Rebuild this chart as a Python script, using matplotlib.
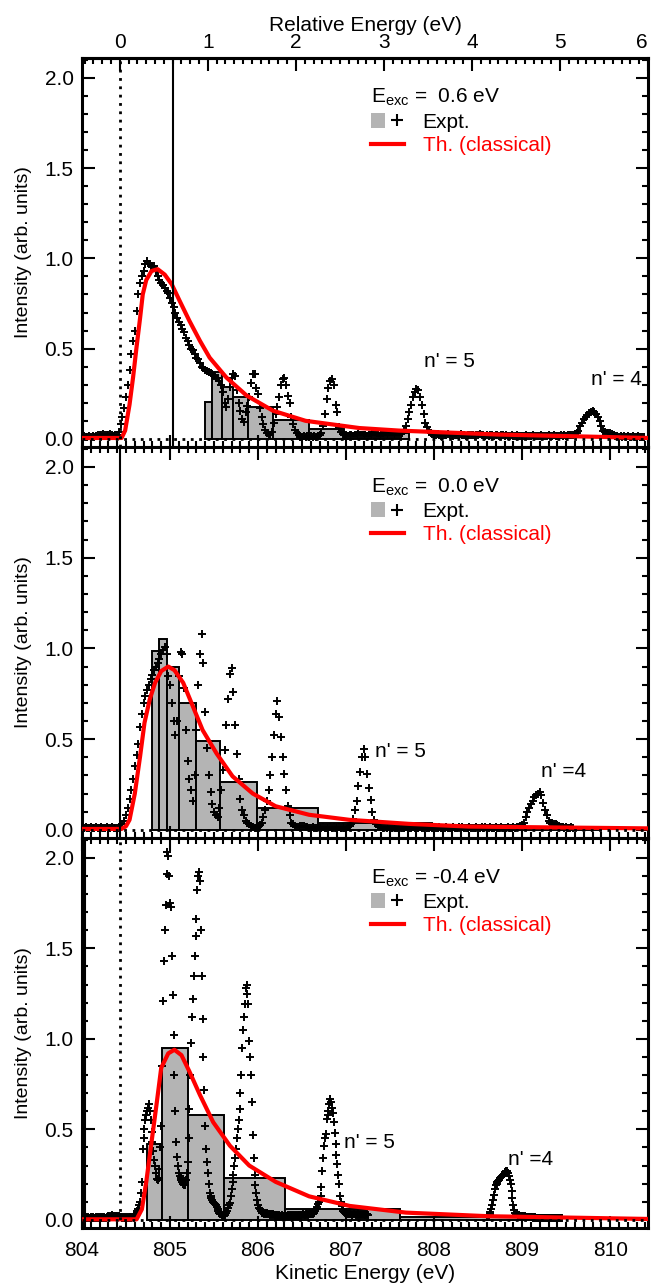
import numpy as np
import matplotlib
matplotlib.use('Agg')
import matplotlib.pyplot as plt
from matplotlib.ticker import MultipleLocator, FormatStrFormatter
from matplotlib.patches import Patch
from matplotlib.lines import Line2D
from matplotlib.legend_handler import HandlerTuple

plt.rcParams['font.family'] = ['Liberation Sans', 'DejaVu Sans']
plt.rcParams['mathtext.fontset'] = 'custom'
plt.rcParams['mathtext.rm'] = 'Liberation Sans'
plt.rcParams['mathtext.it'] = 'Liberation Sans:italic'

# threshold (zero of the relative energy scale), eV
E0 = 804.43
exc = [0.6, 0.0, -0.4]

# ---- experiment, E_exc = 0.6 eV (step 0.02 eV from 804.00)
top_I = [
    0.01, 0.015, 0.01, 0.01, 0.015, 0.01, 0.015, 0.01, 0.015, 0.02,    # 804.0
    0.02, 0.02, 0.025, 0.02, 0.02, 0.02, 0.025, 0.02, 0.015, 0.02,     # 804.2
    0.02, 0.04, 0.08, 0.12, 0.17, 0.23, 0.30, 0.38, 0.47, 0.54,        # 804.4
    0.60, 0.71, 0.80, 0.865, 0.90, 0.93, 0.97, 0.985, 0.97, 0.96,      # 804.6
    0.96, 0.955, 0.93, 0.90, 0.88, 0.865, 0.85, 0.835, 0.82, 0.81,     # 804.8
    0.78, 0.75, 0.73, 0.70, 0.67, 0.65, 0.63, 0.61, 0.59, 0.56,        # 805.0
    0.54, 0.52, 0.50, 0.49, 0.47, 0.45, 0.44, 0.42, 0.40, 0.39,        # 805.2
    0.38, 0.375, 0.37, 0.365, 0.36, 0.35, 0.34, 0.335, 0.32, 0.30,     # 805.4
    0.26, 0.20, 0.175, 0.22, 0.29, 0.34, 0.36, 0.35, 0.27, 0.20,       # 805.6
    0.156, 0.11, 0.092, 0.15, 0.18, 0.23, 0.31, 0.36, 0.36, 0.28,      # 805.8
    0.25, 0.17, 0.12, 0.08, 0.05, 0.03, 0.02, 0.02, 0.04, 0.09,        # 806.0
    0.14, 0.175, 0.23, 0.30, 0.33, 0.34, 0.30, 0.24, 0.20, 0.12,       # 806.2
    0.083, 0.05, 0.03, 0.02, 0.01, 0.01, 0.015, 0.01, 0.015, 0.01,     # 806.4
    0.015, 0.01, 0.015, 0.01, 0.015, 0.02, 0.03, 0.07, 0.14, 0.22,     # 806.6
    0.28, 0.32, 0.33, 0.30, 0.19, 0.15, 0.064, 0.04, 0.025, 0.02,      # 806.8
    0.02, 0.015, 0.02, 0.02, 0.015, 0.02, 0.02, 0.025, 0.02, 0.02,     # 807.0
    0.02, 0.02, 0.015, 0.02, 0.02, 0.025, 0.02, 0.02, 0.02, 0.015,     # 807.2
    0.02, 0.02, 0.025, 0.02, 0.02, 0.02, 0.02, 0.025, 0.02, 0.02,      # 807.4
    0.02, 0.025, 0.03, 0.05, 0.07, 0.11, 0.15, 0.19, 0.23, 0.26,       # 807.6
    0.276, 0.27, 0.23, 0.19, 0.14, 0.09, 0.064, 0.04, 0.03, 0.025,     # 807.8
    0.02, 0.02, 0.025, 0.02, 0.015, 0.02, 0.02, 0.02, 0.025, 0.02,     # 808.0
    0.02, 0.015, 0.02, 0.02, 0.02, 0.025, 0.02, 0.02, 0.015, 0.02,     # 808.2
    0.02, 0.02, 0.02, 0.015, 0.02, 0.02, 0.025, 0.02, 0.02, 0.015,     # 808.4
    0.02, 0.015, 0.02, 0.02, 0.015, 0.02, 0.02, 0.015, 0.02, 0.02,     # 808.6
    0.015, 0.02, 0.015, 0.015, 0.02, 0.015, 0.015, 0.02, 0.015, 0.015, # 808.8
    0.015, 0.015, 0.02, 0.015, 0.015, 0.015, 0.02, 0.015, 0.015, 0.015,  # 809.0
    0.015, 0.02, 0.015, 0.015, 0.015, 0.02, 0.015, 0.015, 0.02, 0.015,   # 809.2
    0.015, 0.015, 0.02, 0.015, 0.02, 0.015, 0.02, 0.02, 0.02, 0.02,      # 809.4
    0.025, 0.035, 0.046, 0.07, 0.09, 0.11, 0.12, 0.13, 0.145, 0.15,      # 809.6
    0.155, 0.15, 0.14, 0.12, 0.10, 0.07, 0.046, 0.04, 0.035, 0.035,      # 809.8
    0.03, 0.025, 0.02, 0.015, 0.015, 0.01, 0.015, 0.01, 0.015, 0.01,     # 810.0
    0.015, 0.01, 0.01, 0.015, 0.01, 0.01, 0.015, 0.01, 0.01, 0.01,       # 810.2
]
top_E = 804.0 + 0.02 * np.arange(len(top_I))

# ---- experiment, E_exc = 0.0 eV (step 0.02 eV from 804.00)
mid_I = [
    0.01, 0.01, 0.015, 0.01, 0.01, 0.015, 0.01, 0.01, 0.015, 0.01,     # 804.0
    0.01, 0.015, 0.01, 0.01, 0.015, 0.01, 0.01, 0.015, 0.01, 0.01,     # 804.2
    0.01, 0.01, 0.015, 0.03, 0.05, 0.08, 0.12, 0.17, 0.22, 0.28,       # 804.4
    0.35, 0.41, 0.475, 0.565, 0.64, 0.70, 0.74, 0.77, 0.80, 0.83,      # 804.6
    0.855, 0.88, 0.90, 0.92, 0.94, 0.97, 0.99, 1.01, 0.97, 0.85,       # 804.8
    0.80, 0.70, 0.60, 0.52, 0.60, 0.85, 0.98, 0.97, 0.78, 0.55,        # 805.0
    0.38, 0.28, 0.22, 0.16, 0.30, 0.55, 0.80, 0.97, 1.08, 0.92,        # 805.2
    0.65, 0.45, 0.30, 0.21, 0.14, 0.10, 0.08, 0.07, 0.12, 0.22,        # 805.4
    0.33, 0.44, 0.58, 0.72, 0.86, 0.89, 0.76, 0.58, 0.42, 0.28,        # 805.6
    0.17, 0.11, 0.08, 0.05, 0.04, 0.03, 0.02, 0.015, 0.01, 0.01,       # 805.8
    0.015, 0.025, 0.04, 0.07, 0.11, 0.16, 0.22, 0.30, 0.40, 0.52,      # 806.0
    0.64, 0.71, 0.62, 0.51, 0.40, 0.31, 0.22, 0.13, 0.08, 0.04,        # 806.2
    0.03, 0.02, 0.015, 0.015, 0.02, 0.02, 0.02, 0.015, 0.015, 0.01,    # 806.4
    0.01, 0.015, 0.01, 0.01, 0.015, 0.01, 0.01, 0.015, 0.01, 0.01,     # 806.6
    0.01, 0.015, 0.01, 0.015, 0.01, 0.01, 0.015, 0.01, 0.015, 0.01,    # 806.8
    0.01, 0.015, 0.02, 0.03, 0.06, 0.11, 0.16, 0.24, 0.32, 0.40,       # 807.0
    0.447, 0.40, 0.31, 0.23, 0.165, 0.10, 0.055, 0.03, 0.02, 0.015,    # 807.2
    0.015, 0.01, 0.015, 0.01, 0.015, 0.01, 0.01, 0.015, 0.01, 0.01,    # 807.4
    0.01, 0.015, 0.01, 0.01, 0.015, 0.01, 0.01, 0.01, 0.015, 0.01,     # 807.6
    0.01, 0.01, 0.015, 0.01, 0.01, 0.015, 0.01, 0.01, 0.015, 0.01,     # 807.8
    0.015, 0.01, 0.01, 0.015, 0.01, 0.01, 0.01, 0.015, 0.01, 0.01,     # 808.0
    0.01, 0.015, 0.01, 0.01, 0.015, 0.01, 0.015, 0.01, 0.01, 0.01,     # 808.2
    0.015, 0.01, 0.01, 0.01, 0.015, 0.01, 0.01, 0.015, 0.01, 0.015,    # 808.4
    0.01, 0.01, 0.015, 0.01, 0.01, 0.015, 0.01, 0.01, 0.015, 0.01,     # 808.6
    0.01, 0.01, 0.015, 0.01, 0.01, 0.015, 0.01, 0.015, 0.015, 0.02,    # 808.8
    0.025, 0.04, 0.07, 0.10, 0.12, 0.14, 0.16, 0.18, 0.19, 0.20,       # 809.0
    0.21, 0.19, 0.15, 0.11, 0.08, 0.05, 0.04, 0.035, 0.03, 0.03,       # 809.2
    0.025, 0.02, 0.015, 0.015, 0.01, 0.015, 0.01, 0.01, 0.015, 0.01,   # 809.4
]
mid_E = 804.0 + 0.02 * np.arange(len(mid_I))

# ---- experiment, E_exc = -0.4 eV (step 0.01 eV), two scanned windows
bot_Ia = [
    0.01, 0.015, 0.01, 0.01, 0.015, 0.01, 0.01, 0.015, 0.01, 0.01,     # 804.0
    0.015, 0.01, 0.01, 0.015, 0.01, 0.01, 0.015, 0.01, 0.015, 0.01,    # 804.1
    0.01, 0.015, 0.01, 0.015, 0.01, 0.015, 0.01, 0.01, 0.015, 0.015,   # 804.2
    0.02, 0.02, 0.015, 0.02, 0.025, 0.02, 0.02, 0.015, 0.02, 0.02,     # 804.3
    0.02, 0.015, 0.02, 0.015, 0.015, 0.01, 0.015, 0.01, 0.015, 0.01,   # 804.4
    0.015, 0.01, 0.015, 0.01, 0.015, 0.015, 0.01, 0.015, 0.015, 0.02,  # 804.5
    0.025, 0.03, 0.04, 0.05, 0.06, 0.08, 0.10, 0.15, 0.21, 0.39,       # 804.6
    0.45, 0.50, 0.55, 0.58, 0.60, 0.62, 0.64, 0.60, 0.55, 0.485,       # 804.7
    0.43, 0.38, 0.33, 0.30, 0.26, 0.225, 0.22, 0.23, 0.28, 0.40,       # 804.8
    0.52, 0.85, 1.21, 1.43, 1.60, 1.74, 1.91, 2.03, 2.01, 1.90,        # 804.9
    1.75, 1.73, 1.46, 1.24, 1.02, 0.80, 0.60, 0.43, 0.35, 0.30,        # 805.0
    0.26, 0.24, 0.23, 0.22, 0.21, 0.20, 0.19, 0.19, 0.22, 0.26,        # 805.1
    0.32, 0.45, 0.61, 0.80, 0.98, 1.12, 1.22, 1.35, 1.46, 1.57,        # 805.2
    1.66, 1.82, 1.90, 1.92, 1.87, 1.60, 1.35, 1.11, 0.90, 0.72,        # 805.3
    0.52, 0.39, 0.32, 0.26, 0.20, 0.15, 0.13, 0.12, 0.11, 0.10,        # 805.4
    0.095, 0.09, 0.08, 0.07, 0.06, 0.05, 0.04, 0.035, 0.03, 0.025,     # 805.5
    0.02, 0.02, 0.025, 0.03, 0.04, 0.05, 0.065, 0.08, 0.095, 0.13,     # 805.6
    0.17, 0.21, 0.25, 0.30, 0.34, 0.39, 0.45, 0.50, 0.55, 0.61,        # 805.7
    0.70, 0.80, 0.95, 1.05, 1.12, 1.19, 1.28, 1.30, 1.25, 1.19,        # 805.8
    0.99, 0.90, 0.80, 0.65, 0.47, 0.34, 0.25, 0.19, 0.15, 0.11,        # 805.9
    0.08, 0.065, 0.058, 0.05, 0.045, 0.04, 0.04, 0.035, 0.04, 0.035,   # 806.0
    0.04, 0.035, 0.03, 0.03, 0.025, 0.03, 0.025, 0.03, 0.025, 0.025,   # 806.1
    0.025, 0.02, 0.025, 0.02, 0.025, 0.02, 0.02, 0.025, 0.02, 0.02,    # 806.2
    0.02, 0.025, 0.02, 0.02, 0.025, 0.02, 0.025, 0.02, 0.02, 0.025,    # 806.3
    0.02, 0.025, 0.02, 0.025, 0.02, 0.025, 0.025, 0.02, 0.025, 0.025,  # 806.4
    0.025, 0.03, 0.025, 0.025, 0.03, 0.025, 0.03, 0.025, 0.03, 0.03,   # 806.5
    0.03, 0.03, 0.035, 0.04, 0.045, 0.05, 0.058, 0.07, 0.085, 0.10,    # 806.6
    0.115, 0.13, 0.18, 0.27, 0.34, 0.41, 0.45, 0.475, 0.56, 0.58,      # 806.7
    0.60, 0.64, 0.67, 0.65, 0.62, 0.59, 0.54, 0.48, 0.42, 0.36,        # 806.8
    0.31, 0.25, 0.20, 0.13, 0.10, 0.075, 0.058, 0.05, 0.045, 0.04,     # 806.9
    0.035, 0.035, 0.03, 0.03, 0.035, 0.03, 0.03, 0.025, 0.03, 0.03,    # 807.0
    0.03, 0.025, 0.03, 0.03, 0.025, 0.03, 0.025, 0.03, 0.025, 0.03,    # 807.1
    0.025, 0.03, 0.025, 0.025, 0.03, 0.025,                            # 807.2
]
bot_Ea = 804.0 + 0.01 * np.arange(len(bot_Ia))
bot_Ib = [
    0.015, 0.02, 0.02, 0.03, 0.045, 0.06, 0.08, 0.11, 0.14, 0.17,      # 808.6
    0.19, 0.20, 0.21, 0.215, 0.22, 0.23, 0.235, 0.24, 0.25, 0.255,     # 808.7
    0.26, 0.265, 0.27, 0.27, 0.26, 0.24, 0.22, 0.20, 0.16, 0.12,       # 808.8
    0.08, 0.055, 0.04, 0.035, 0.03, 0.028, 0.026, 0.025, 0.024, 0.022, # 808.9
    0.02, 0.02, 0.018, 0.02, 0.018, 0.015, 0.018, 0.015, 0.015, 0.018, # 809.0
    0.015, 0.015, 0.012, 0.015, 0.012, 0.015, 0.012, 0.01, 0.012, 0.01,  # 809.1
    0.01, 0.012, 0.01, 0.01, 0.012, 0.01, 0.01, 0.012, 0.01, 0.01,     # 809.2
    0.01, 0.01, 0.012, 0.01, 0.01, 0.012, 0.01, 0.01, 0.01, 0.012,     # 809.3
    0.01, 0.012, 0.01, 0.01, 0.012, 0.01,                              # 809.4
]
bot_Eb = 808.6 + 0.01 * np.arange(len(bot_Ib))

# ---- binned experiment (histogram bin edges and heights)
top_edges = [805.40, 805.48, 805.59, 805.71, 805.89, 806.17, 806.58, 806.98, 807.71]
top_hist = [0.206, 0.368, 0.285, 0.23, 0.175, 0.105, 0.055, 0.03]
mid_edges = [804.80, 804.88, 804.97, 805.10, 805.30, 805.57, 805.99, 806.68, 807.98, 809.90]
mid_hist = [0.985, 1.05, 0.90, 0.70, 0.49, 0.265, 0.12, 0.04, 0.016]
bot_edges = [804.74, 804.91, 805.20, 805.61, 806.31, 807.61, 809.30]
bot_hist = [0.42, 0.95, 0.58, 0.23, 0.058, 0.015]

# ---- classical theory
top_thE = [804.00, 804.45, 804.49, 804.54, 804.58, 804.62, 804.66, 804.69, 804.73, 804.79,
           804.86, 804.94, 805.02, 805.11, 805.22, 805.34, 805.45, 805.64, 805.87, 806.17,
           806.54, 807.15, 807.60, 808.73, 810.43]
top_thI = [0.005, 0.005, 0.046, 0.19, 0.34, 0.51, 0.67, 0.80, 0.88, 0.93,
           0.94, 0.91, 0.856, 0.764, 0.654, 0.543, 0.45, 0.34, 0.24, 0.156,
           0.10, 0.06, 0.046, 0.024, 0.005]
mid_thE = [804.00, 804.45, 804.50, 804.54, 804.60, 804.66, 804.71, 804.77, 804.83, 804.90,
           804.98, 805.05, 805.15, 805.26, 805.37, 805.53, 805.71, 805.94, 806.20, 806.58,
           807.04, 807.71, 808.39, 810.43]
mid_thI = [0.005, 0.005, 0.02, 0.055, 0.20, 0.405, 0.59, 0.72, 0.81, 0.875,
           0.90, 0.88, 0.81, 0.68, 0.55, 0.42, 0.295, 0.20, 0.13, 0.083,
           0.055, 0.033, 0.018, 0.008]
bot_thE = [804.00, 804.62, 804.68, 804.73, 804.79, 804.85, 804.90, 804.98, 805.05, 805.13,
           805.22, 805.34, 805.49, 805.68, 805.90, 806.20, 806.58, 807.04, 807.68, 808.62,
           810.43]
bot_thI = [0.003, 0.003, 0.058, 0.21, 0.43, 0.65, 0.84, 0.92, 0.94, 0.91,
           0.82, 0.69, 0.54, 0.41, 0.30, 0.21, 0.13, 0.077, 0.04, 0.02,
           0.005]

# n' labels: (text, energy, intensity)
top_lab = [("n' = 5", 808.17, 0.43), ("n' = 4", 810.07, 0.33)]
mid_lab = [("n' = 5", 807.62, 0.43), ("n' =4", 809.47, 0.32)]
bot_lab = [("n' = 5", 807.27, 0.425), ("n' =4", 809.10, 0.335)]

rel_ticks = [0, 1, 2, 3, 4, 5, 6]

GREY = '#b4b4b4'
FS = 15
DOT = (0, (1, 2.0))

fig = plt.figure(figsize=(6.52, 12.86), dpi=100)
L, W = 82 / 652, 566 / 652
ax1 = fig.add_axes([L, 1 - 447 / 1286, W, 389 / 1286])
ax2 = fig.add_axes([L, 1 - 838 / 1286, W, 391 / 1286])
ax3 = fig.add_axes([L, 1 - 1228 / 1286, W, 390 / 1286])

panels = [
    (ax1, [(top_E, top_I)], top_edges, top_hist, top_thE, top_thI, top_lab),
    (ax2, [(mid_E, mid_I)], mid_edges, mid_hist, mid_thE, mid_thI, mid_lab),
    (ax3, [(bot_Ea, bot_Ia), (bot_Eb, bot_Ib)], bot_edges, bot_hist, bot_thE, bot_thI, bot_lab),
]

for k, (ax, data, edges, hist, thE, thI, labs) in enumerate(panels):
    ax.bar(edges[:-1], hist, width=np.diff(edges), align='edge',
           color=GREY, edgecolor='k', linewidth=1.4, zorder=1)
    for E, I in data:
        ax.plot(E, I, ls='none', marker='+', color='k', ms=6, mew=1.4, zorder=2)
    ax.plot(thE, thI, color='red', lw=3, zorder=3)
    ax.axhline(0, color='k', ls=DOT, lw=2, zorder=4)
    if exc[k] != 0:
        ax.axvline(E0, color='k', ls=DOT, lw=2, zorder=4)
    ax.axvline(E0 + exc[k], color='k', lw=1.5, zorder=4)

    for txt, x, y in labs:
        ax.text(x, y, txt, fontsize=FS, ha='center', va='center')

    ax.set_xlim(804.0, 810.43)
    ax.set_ylim(-0.045, 2.11)
    ax.xaxis.set_major_locator(MultipleLocator(1))
    ax.xaxis.set_minor_locator(MultipleLocator(0.1))
    ax.yaxis.set_major_locator(MultipleLocator(0.5))
    ax.yaxis.set_minor_locator(MultipleLocator(0.1))
    ax.yaxis.set_major_formatter(FormatStrFormatter('%.1f'))
    ax.tick_params(which='both', direction='in', top=True, right=True,
                   width=1.5, labelsize=FS, pad=6)
    ax.tick_params(which='major', length=9)
    ax.tick_params(which='minor', length=4.5)
    for s in ax.spines.values():
        s.set_linewidth(2.2)
    ax.set_ylabel('Intensity (arb. units)', fontsize=14, labelpad=9)

    h_expt = (Patch(facecolor=GREY, edgecolor='none'),
              Line2D([], [], ls='none', marker='+', color='k', ms=9, mew=1.5))
    h_th = Line2D([], [], color='red', lw=3)
    leg = ax.legend([h_expt, h_th], ['Expt.', 'Th. (classical)'],
                    title=r'E$_{\rm exc}$ = ' + '%4.1f eV' % exc[k],
                    handler_map={tuple: HandlerTuple(ndivide=None, pad=0.2)},
                    loc='upper left', bbox_to_anchor=(0.51, 0.925),
                    frameon=False, alignment='left', fontsize=FS, title_fontsize=FS,
                    handlelength=1.6, handletextpad=0.9, borderpad=0, borderaxespad=0,
                    labelspacing=0.2)
    leg.get_texts()[1].set_color('red')

    if k < 2:
        ax.tick_params(labelbottom=False)

ax3.tick_params(axis='x', pad=9)

# relative energy on top of the upper panel
ax1.tick_params(top=False, which='both')
sec = ax1.secondary_xaxis('top', functions=(lambda e: e - E0, lambda r: r + E0))
sec.set_xticks(rel_ticks, [str(t) for t in rel_ticks])
sec.xaxis.set_minor_locator(MultipleLocator(0.1))
sec.tick_params(which='both', direction='in', width=1.5, labelsize=FS, pad=4)
sec.tick_params(which='major', length=9)
sec.tick_params(which='minor', length=4.5)
sec.spines['top'].set_linewidth(2.2)
sec.set_xlabel('Relative Energy (eV)', fontsize=FS, labelpad=2)

ax3.set_xlabel('Kinetic Energy (eV)', fontsize=FS, labelpad=3)

# the last relative-energy label sits on the figure edge; keep it inside
for tick in sec.xaxis.get_major_ticks():
    if abs(tick.get_loc() - rel_ticks[-1]) < 1e-6:
        tick.label1.set_horizontalalignment('right')
        tick.label2.set_horizontalalignment('right')

fig.savefig('out.png', dpi=100)
